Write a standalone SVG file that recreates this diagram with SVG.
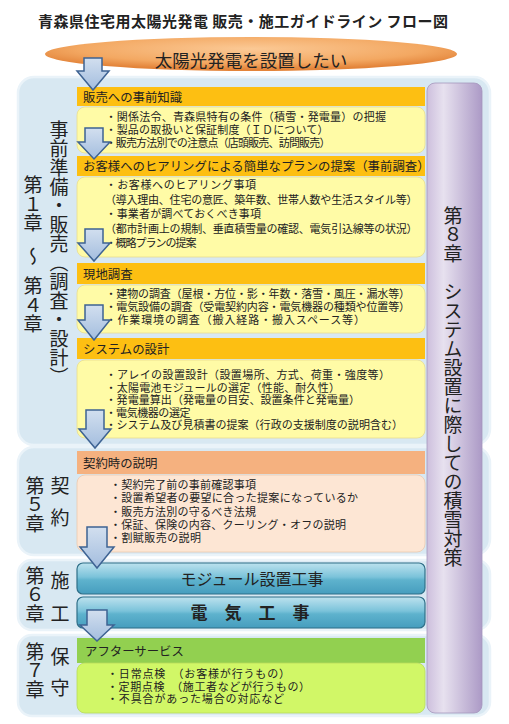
<svg xmlns="http://www.w3.org/2000/svg" width="509" height="724" viewBox="0 0 509 724">
<defs>
<style>
.t{font-family:"Noto Sans CJK JP","Noto Sans CJK SC",sans-serif;fill:#222;dominant-baseline:central}
.b{font-family:"Liberation Sans","Noto Sans CJK JP","Noto Sans CJK SC",sans-serif;font-size:11px}
.h{font-size:12.4px}
.v{font-size:19px;writing-mode:vertical-rl}
.panel{fill:#D8E8F2;stroke:#EAF3F9;stroke-width:2.5}
.hdrY{fill:#FDBF12}
.bodY{fill:#FFFBA6;stroke:#E9DD90;stroke-width:0.8}
.arr{fill:url(#gArr);stroke:#3E6393;stroke-width:1.5;stroke-linejoin:miter}
.bar{fill:url(#gTeal);stroke:#2F6F88;stroke-width:1.2}
</style>
<radialGradient id="gEll" cx="50%" cy="35%" r="60%">
<stop offset="0" stop-color="#FBC995"/>
<stop offset="0.7" stop-color="#F3A862"/>
<stop offset="1" stop-color="#E3843A"/>
</radialGradient>
<linearGradient id="gPur" x1="0" y1="0" x2="1" y2="0">
<stop offset="0" stop-color="#CDBFDD"/>
<stop offset="0.3" stop-color="#E7E1EF"/>
<stop offset="1" stop-color="#AC9AC6"/>
</linearGradient>
<linearGradient id="gArr" x1="0" y1="0" x2="0" y2="1">
<stop offset="0" stop-color="#D2DFEF"/>
<stop offset="1" stop-color="#A3BDDE"/>
</linearGradient>
<linearGradient id="gTeal" x1="0" y1="0" x2="0" y2="1">
<stop offset="0" stop-color="#BDE2EE"/>
<stop offset="0.45" stop-color="#7BC3DA"/>
<stop offset="0.55" stop-color="#5EB2CD"/>
<stop offset="1" stop-color="#469DBE"/>
</linearGradient>
</defs>
<rect width="509" height="724" fill="#FFFFFF"/>

<g id="title">
<text class="t" x="38" y="20" font-size="15" font-weight="bold" textLength="410">青森県住宅用太陽光発電 販売・施工ガイドライン フロー図</text>
</g>

<g id="start">
<ellipse cx="251" cy="54" rx="206" ry="17" fill="url(#gEll)"/>
<text class="t" x="251" y="59" font-size="17.5" text-anchor="middle">太陽光発電を設置したい</text>
</g>

<g id="panels">
<rect class="panel" x="18" y="77" width="472" height="368" rx="16"/>
<rect class="panel" x="18" y="447" width="472" height="108" rx="16"/>
<rect class="panel" x="18" y="560" width="472" height="70" rx="14"/>
<rect class="panel" x="18" y="635" width="472" height="81" rx="14"/>
</g>

<g id="chapter-labels">
<text class="t v" x="33" y="175.5">第１章</text>
<text class="t v" x="33" y="247.5">～</text>
<text class="t v" x="33" y="276.5">第４章</text>
<text class="t v" x="59" y="120.5" font-size="18.8">事前準備・販売（調査・設計）</text>
<text class="t v" x="35" y="476" font-size="18.6">第５章</text>
<text class="t v" x="60" y="476.5" letter-spacing="13">契約</text>
<text class="t v" x="35" y="566" font-size="18.6">第６章</text>
<text class="t v" x="60" y="571.5" letter-spacing="14">施工</text>
<text class="t v" x="35" y="642" font-size="18.6">第７章</text>
<text class="t v" x="60" y="647.5" letter-spacing="12">保守</text>
</g>

<g id="chapter8">
<rect x="427" y="83" width="55" height="630" rx="8" fill="url(#gPur)" stroke="#A597BC" stroke-width="0.8"/>
<text class="t v" x="453" y="206" font-size="20.2">第８章　システム設置に際しての積雪対策</text>
</g>

<g id="box1">
<rect class="hdrY" x="77" y="87" width="348" height="19"/>
<rect class="bodY" x="77" y="107" width="348" height="46" rx="8"/>
<text class="t h" x="83" y="96.5">販売への事前知識</text>
<text class="t b" x="105.5" y="117" textLength="280.5">・関係法令、青森県特有の条件（積雪・発電量）の把握</text>
<text class="t b" x="105.5" y="130" textLength="223">・製品の取扱いと保証制度（ＩＤについて）</text>
<text class="t b" x="105.5" y="143" textLength="225">・販売方法別での注意点（店頭販売、訪問販売）</text>
</g>

<g id="box2">
<rect class="hdrY" x="77" y="156" width="348" height="20"/>
<rect class="bodY" x="77" y="177" width="348" height="80" rx="8"/>
<text class="t h" x="83" y="166">お客様へのヒアリングによる簡単なプランの提案（事前調査）</text>
<text class="t b" x="105.5" y="185" textLength="150.5">・お客様へのヒアリング事項</text>
<text class="t b" x="105" y="199.5" textLength="312.5">（導入理由、住宅の意匠、築年数、世帯人数や生活スタイル等）</text>
<text class="t b" x="105.5" y="214" textLength="155.5">・事業者が調べておくべき事項</text>
<text class="t b" x="105" y="228.5" textLength="312.5">（都市計画上の規制、垂直積雪量の確認、電気引込線等の状況）</text>
<text class="t b" x="105.5" y="243" textLength="91">・概略プランの提案</text>
</g>

<g id="box3">
<rect class="hdrY" x="77" y="263" width="348" height="21"/>
<rect class="bodY" x="77" y="285" width="348" height="48" rx="8"/>
<text class="t h" x="83" y="273.5">現地調査</text>
<text class="t b" x="105.5" y="294" textLength="304.5">・建物の調査（屋根・方位・影・年数・落雪・風圧・漏水等）</text>
<text class="t b" x="105.5" y="307" textLength="304.5">・電気設備の調査（受電契約内容・電気機器の種類や位置等）</text>
<text class="t b" x="105.5" y="320" textLength="259.5">・作業環境の調査（搬入経路・搬入スペース等）</text>
</g>

<g id="box4">
<rect class="hdrY" x="77" y="338" width="348" height="21"/>
<rect class="bodY" x="77" y="360" width="348" height="78" rx="8"/>
<text class="t h" x="83" y="349">システムの設計</text>
<text class="t b" x="105.5" y="375" textLength="284.5">・アレイの設置設計（設置場所、方式、荷重・強度等）</text>
<text class="t b" x="105.5" y="387.5" textLength="234.5">・太陽電池モジュールの選定（性能、耐久性）</text>
<text class="t b" x="105.5" y="400" textLength="254.5">・発電量算出（発電量の目安、設置条件と発電量）</text>
<text class="t b" x="105.5" y="412.5" textLength="85">・電気機器の選定</text>
<text class="t b" x="105.5" y="425" textLength="297.5">・システム及び見積書の提案（行政の支援制度の説明含む）</text>
</g>

<g id="box5">
<rect x="77" y="451" width="348" height="23" fill="#F5B17F"/>
<rect x="77" y="475" width="348" height="77" rx="8" fill="#FDE6D4" stroke="#EBC9AE" stroke-width="0.8"/>
<text class="t h" x="83" y="463">契約時の説明</text>
<text class="t b" x="110" y="485" textLength="146">・契約完了前の事前確認事項</text>
<text class="t b" x="110" y="498" textLength="248">・設置希望者の要望に合った提案になっているか</text>
<text class="t b" x="110" y="511.5" textLength="146">・販売方法別の守るべき法規</text>
<text class="t b" x="110" y="525" textLength="236">・保証、保険の内容、クーリング・オフの説明</text>
<text class="t b" x="110" y="538" textLength="91">・割賦販売の説明</text>
</g>

<g id="box6-module">
<rect class="bar" x="77" y="563" width="348" height="31" rx="6"/>
<text class="t" x="252" y="578" font-size="16" text-anchor="middle">モジュール設置工事</text>
</g>

<g id="box6-electric">
<rect class="bar" x="77" y="597" width="348" height="31" rx="6"/>
<text class="t" x="250" y="611" font-size="17" font-weight="bold" text-anchor="middle">電　気　工　事</text>
</g>

<g id="box7">
<rect x="77" y="638" width="348" height="25" fill="#92D050"/>
<rect x="77" y="663" width="348" height="50" rx="8" fill="#D1F767" stroke="#B9DB5A" stroke-width="0.8"/>
<text class="t h" x="85" y="650.5">アフターサービス</text>
<text class="t b" x="107" y="674" textLength="183">・日常点検　（お客様が行うもの）</text>
<text class="t b" x="107" y="686.5" textLength="203">・定期点検　（施工者などが行うもの）</text>
<text class="t b" x="107" y="699" textLength="177">・不具合があった場合の対応など</text>
</g>

<g id="connectors">
<path class="arr" d="M84,58 H102 V71 H109 L93,90 L77,71 H84 Z"/>
<path class="arr" d="M85,128 H103 V142 H110 L94,159 L78,142 H85 Z"/>
<path class="arr" d="M85,229 H103 V243 H110 L94,261 L78,243 H85 Z"/>
<path class="arr" d="M85,305 H103 V320 H110 L94,340 L78,320 H85 Z"/>
<path class="arr" d="M86,410 H104 V429 H111 L95,448 L79,429 H86 Z"/>
<path class="arr" d="M87,527 H107 V547 H114 L97,568 L80,547 H87 Z"/>
<path class="arr" d="M87,610 H107 V625 H114 L97,641 L80,625 H87 Z"/>
</g>
</svg>
